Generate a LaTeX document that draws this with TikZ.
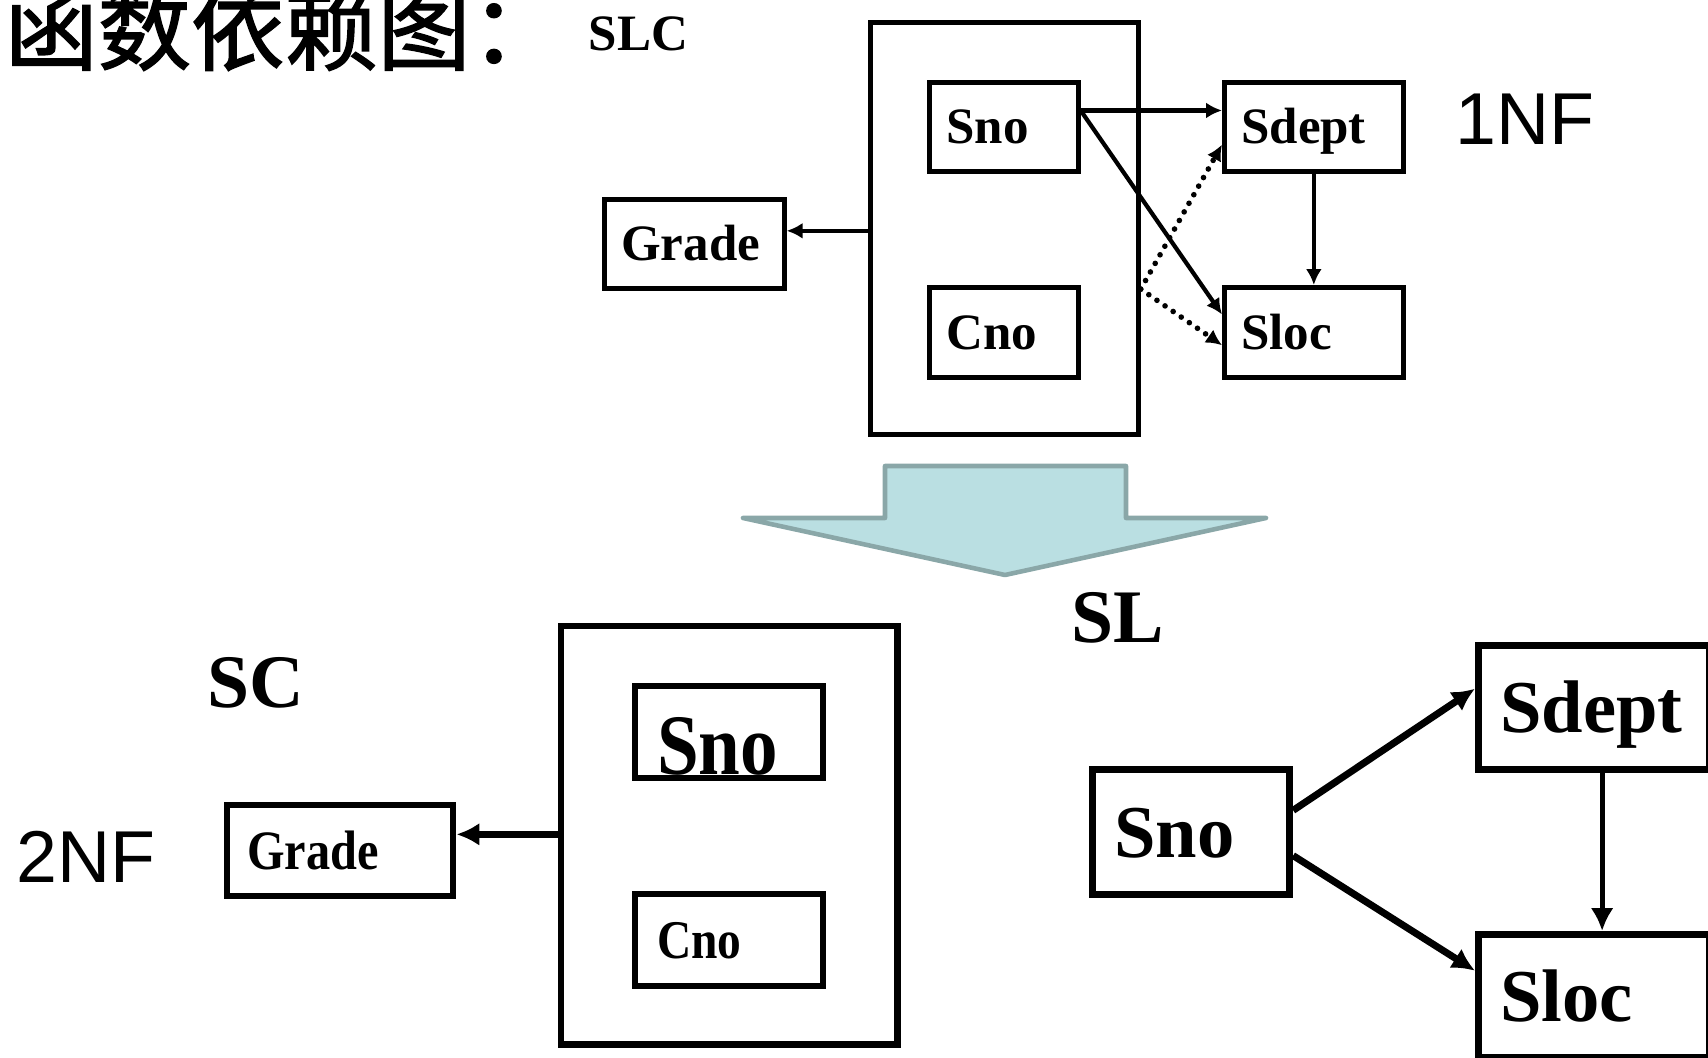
\documentclass[tikz,border=0pt]{standalone}
\usepackage{fontspec}
\setmainfont{Liberation Serif}
\newfontfamily\sansfont{Liberation Sans}
\newfontfamily\narrowfont{Liberation Serif}[FakeStretch=0.87]
\newfontfamily\cjk{Noto Sans CJK SC}[FakeBold=1.6]
\usepackage{tikz}
\usetikzlibrary{shapes.geometric, arrows.meta, calc}
\definecolor{blockfill}{HTML}{BADFE2}
\definecolor{blockline}{HTML}{8AA7A8}
\tikzstyle{attr} = [draw, anchor=north west, line width=1.3pt, inner xsep=0.17cm, inner ysep=0pt, align=left, text height=0.34cm, text depth=0pt, font=\fontsize{14.5}{16}\selectfont\bfseries]
\tikzstyle{bigattr} = [attr, line width=2pt, inner xsep=0.22cm, text height=0.50cm, font=\fontsize{21.2}{24}\selectfont\bfseries]
\tikzstyle{keybox} = [draw, anchor=north west, line width=1.3pt, inner sep=0pt]
\tikzstyle{relname} = [anchor=base west, inner sep=0pt]
\tikzstyle{arrow} = [line width=1.2pt, -{Latex[length=4.5pt,width=4.5pt]}]
\tikzstyle{bigarrow} = [line width=2pt, -{Latex[length=6.5pt,width=6.5pt]}]
\tikzstyle{partial} = [arrow, line width=1.6pt, line cap=round, dash pattern=on 0pt off 2.8pt]
\tikzset{>=latex}

\begin{document}
\begin{tikzpicture}[x=0.01cm, y=-0.01cm]
\useasboundingbox (0,0) rectangle (1708,1058);

% headings
\node[relname, font=\cjk\fontsize{26.5}{30}\selectfont] (title) at (4,63) {函数依赖图：};
\node[relname, font=\fontsize{14.5}{16}\selectfont\bfseries] (slcname) at (588,51) {SLC};
\node[relname, font=\sansfont\fontsize{20.9}{24}\selectfont] (nf1) at (1455,145) {1NF};

% SLC: (Sno,Cno) -> Grade, Sno -> Sdept -> Sloc
\node[keybox, minimum width=2.68cm, minimum height=4.12cm] (slc) at (868,20) {};
\node[attr, text width=1.15cm, minimum height=0.89cm] (sno) at (927,80) {Sno};
\node[attr, text width=1.15cm, minimum height=0.90cm] (cno) at (927,285) {Cno};
\node[attr, text width=1.45cm, minimum height=0.89cm] (sdept) at (1222,80) {Sdept};
\node[attr, text width=1.45cm, minimum height=0.90cm] (sloc) at (1222,285) {Sloc};
\node[attr, text width=1.46cm, minimum height=0.89cm] (grade) at (602,197) {Grade};

%arrows
\draw[arrow] (grade.8 -| slc.west) -- (grade.8);
\draw[arrow] (sno.12) -- (sno.12 -| sdept.west);
\draw[arrow] (sno.12) -- (sloc.169);
\draw[arrow] (sdept.south) -- (sloc.north);
\coordinate (key) at (slc.-24);
\draw[partial] (key) -- (sdept.191);
\draw[partial] (key) -- (sloc.188);

% decomposition arrow
\draw[blockline, fill=blockfill, line width=1.3pt, line join=round] (885,466) -- (1126,466) -- (1126,518) -- (1266,518) -- (1005,575) -- (743,518) -- (885,518) -- cycle;

\node[relname, font=\fontsize{21.5}{24}\selectfont\bfseries] (slname) at (1071,643) {SL};
\node[relname, font=\fontsize{21.5}{24}\selectfont\bfseries] (scname) at (207,708) {SC};
\node[relname, font=\sansfont\fontsize{20.9}{24}\selectfont] (nf2) at (16,883) {2NF};

% SC
\node[keybox, line width=1.8pt, minimum width=3.36cm, minimum height=4.18cm] (sc) at (558,623) {};
\node[attr, line width=1.8pt, inner xsep=0.22cm, text width=1.44cm, minimum height=0.92cm, text height=0.88cm, text depth=0.04cm, font=\narrowfont\fontsize{24.5}{26}\selectfont\bfseries] (sno2) at (632,683) {Sno};
\node[attr, line width=1.8pt, inner xsep=0.22cm, text width=1.44cm, minimum height=0.92cm, text height=0.36cm, font=\narrowfont\fontsize{15.5}{18}\selectfont\bfseries] (cno2) at (632,891) {Cno};
\node[attr, line width=1.8pt, inner xsep=0.20cm, text width=1.86cm, minimum height=0.91cm, text height=0.37cm, font=\narrowfont\fontsize{15.8}{18}\selectfont\bfseries] (grade2) at (224,802) {Grade};
\draw[bigarrow, line width=1.8pt] (grade2.8 -| sc.west) -- (grade2.8);

% SL
\node[bigattr, text width=1.53cm, minimum height=1.25cm] (sno3) at (1089,766) {Sno};
\node[bigattr, text width=1.87cm, minimum height=1.24cm] (sdept3) at (1475,642) {Sdept};
\node[bigattr, text width=1.87cm, minimum height=1.23cm] (sloc3) at (1475,931) {Sloc};
\draw[bigarrow] (sno3.12) -- (sdept3.171);
\draw[bigarrow] (sno3.-13) -- (sloc3.168);
\draw[bigarrow, line width=1.4pt] (sdept3.-83) -- (sdept3.-83 |- sloc3.north);
\end{tikzpicture}
\end{document}
